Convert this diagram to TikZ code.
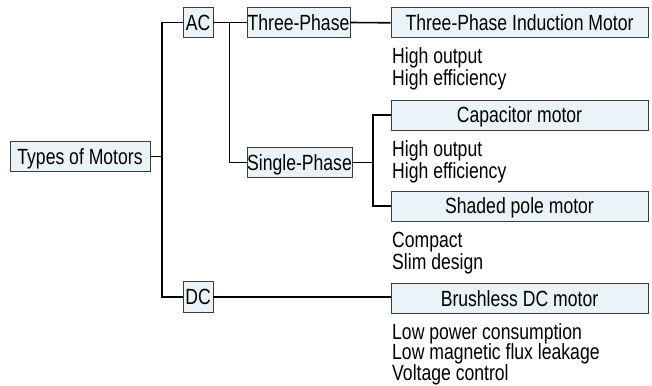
\documentclass[tikz,border=0pt]{standalone}
\usepackage{fontspec}
\setmainfont{Liberation Sans}[FakeStretch=0.8]
\definecolor{boxblue}{RGB}{234,243,248}
\definecolor{boxline}{RGB}{60,60,60}
\begin{document}
\begin{tikzpicture}[x=1pt,y=-1pt,
  box/.style={draw=boxline, fill=boxblue, line width=0.9pt, inner sep=0pt,
    minimum height=29.5pt, text height=15.5pt, text depth=0pt, align=center,
    font=\fontsize{22}{22}\selectfont},
  ln/.style={line width=1.6pt, black},
  feat/.style={anchor=base west, inner sep=0pt, font=\fontsize{22}{22}\selectfont}]
\useasboundingbox (0,0) rectangle (652,385);
% nodes
\node[box, minimum width=140pt] (tm) at (80,156.5) {Types of Motors};
\node[box, minimum width=30pt] (ac) at (198,22.5) {AC};
\node[box, minimum width=30pt, minimum height=31pt] (dc) at (198,297) {DC};
\node[box, minimum width=103pt] (tp) at (298.5,22.5) {Three-Phase};
\node[box, minimum width=105pt] (sp) at (299.5,162.5) {Single-Phase};
\node[box, minimum width=257pt, minimum height=30pt] (tpim) at (519.5,22.8) {Three-Phase Induction Motor};
\node[box, minimum width=257pt, minimum height=30pt] (cap) at (519.5,115) {Capacitor motor};
\node[box, minimum width=257pt, minimum height=30pt] (sh) at (519.5,206) {Shaded pole motor};
\node[box, minimum width=257pt, minimum height=30pt] (bl) at (519.5,298.5) {Brushless DC motor};
% features
\node[feat] (f1) at (392,64) {High output};
\node[feat] (f2) at (392,86) {High efficiency};
\node[feat] (f3) at (392,156) {High output};
\node[feat] (f4) at (392,178) {High efficiency};
\node[feat] (f5) at (392,247) {Compact};
\node[feat] (f6) at (392,269) {Slim design};
\node[feat] (f7) at (392,339) {Low power consumption};
\node[feat] (f8) at (392,359.5) {Low magnetic flux leakage};
\node[feat] (f9) at (392,380) {Voltage control};
% junction coordinates
\coordinate (j1) at (162,156.5);
\coordinate (j2) at (229.3,22.5);
\coordinate (j3) at (373,162.5);
% connectors
\draw[ln] (tm.east) -- (j1);
\draw[ln] (ac.west) -| (j1) |- (dc.west);
\draw[ln] (ac.east) -- (tp.west);
\draw[ln] (j2) |- (sp.west);
\draw[ln] (tp.east) -- (tpim.west);
\draw[ln] (sp.east) -- (j3);
\draw[ln] (cap.west) -| (j3) |- (sh.west);
\draw[ln] (dc.east) -- (dc.east -| bl.west);
\end{tikzpicture}
\end{document}
